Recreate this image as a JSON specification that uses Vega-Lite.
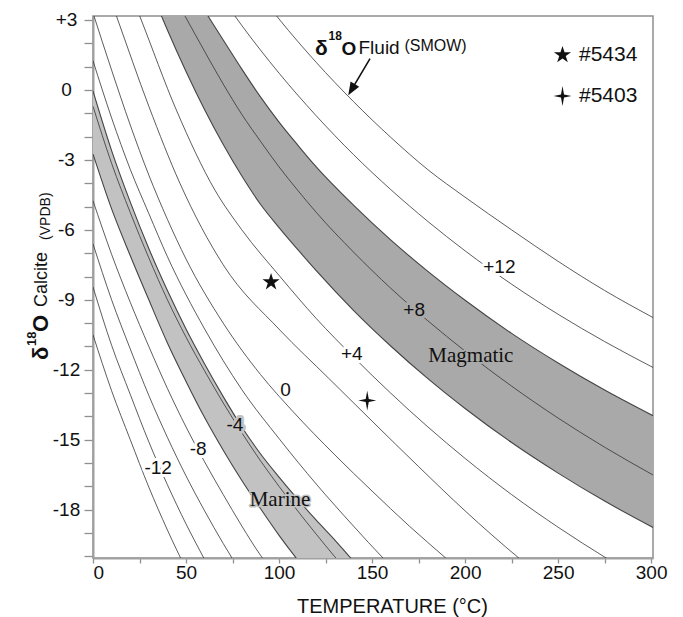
{
  "$schema": "https://vega.github.io/schema/vega-lite/v6.json",
  "width": 560,
  "height": 542,
  "autosize": {"type": "none"},
  "padding": {"left": 93, "top": 16, "right": 30, "bottom": 59},
  "background": "white",
  "config": {
    "view": {"stroke": "#8f8f8f", "strokeWidth": 1.5},
    "axis": {"grid": false, "domainColor": "#a0a0a0", "domainWidth": 2, "tickColor": "#909090", "tickWidth": 1.3, "labelFont": "Liberation Sans", "labelFontSize": 19, "labelColor": "#111111", "titleFont": "Liberation Sans", "titleFontSize": 20, "titleFontWeight": "normal", "titleColor": "#111111"}
  },
  "datasets": {
    "iso": [
      {"w":"-14","T":0,"d":-10.5},{"w":"-14","T":10,"d":-12.9},{"w":"-14","T":20,"d":-14.99},{"w":"-14","T":30,"d":-17.03},{"w":"-14","T":40,"d":-18.87},{"w":"-14","T":50,"d":-20.55},
      {"w":"-12","T":0,"d":-8.45},{"w":"-12","T":10,"d":-10.95},{"w":"-12","T":20,"d":-13.05},{"w":"-12","T":30,"d":-15.09},{"w":"-12","T":40,"d":-16.93},{"w":"-12","T":50,"d":-18.61},{"w":"-12","T":60,"d":-20.14},{"w":"-12","T":65,"d":-20.9},
      {"w":"-10","T":0,"d":-6.6},{"w":"-10","T":10,"d":-9.0},{"w":"-10","T":20,"d":-11.1},{"w":"-10","T":30,"d":-13.1},{"w":"-10","T":40,"d":-14.9},{"w":"-10","T":50,"d":-16.55},{"w":"-10","T":60,"d":-18.05},{"w":"-10","T":70,"d":-19.45},{"w":"-10","T":80,"d":-20.75},
      {"w":"-8","T":0,"d":-4.75},{"w":"-8","T":10,"d":-7.05},{"w":"-8","T":20,"d":-9.1},{"w":"-8","T":30,"d":-11.0},{"w":"-8","T":40,"d":-12.8},{"w":"-8","T":50,"d":-14.45},{"w":"-8","T":60,"d":-15.95},{"w":"-8","T":70,"d":-17.35},{"w":"-8","T":80,"d":-18.7},{"w":"-8","T":90,"d":-19.95},{"w":"-8","T":95,"d":-20.5},
      {"w":"-4","T":0,"d":-0.7},{"w":"-4","T":10,"d":-3.15},{"w":"-4","T":20,"d":-5.25},{"w":"-4","T":30,"d":-7.2},{"w":"-4","T":40,"d":-9.0},{"w":"-4","T":50,"d":-10.6},{"w":"-4","T":60,"d":-12.05},{"w":"-4","T":70,"d":-13.42},{"w":"-4","T":80,"d":-14.7},{"w":"-4","T":90,"d":-15.9},{"w":"-4","T":100,"d":-17.0},{"w":"-4","T":110,"d":-18.05},{"w":"-4","T":120,"d":-19.05},{"w":"-4","T":130,"d":-20.02},{"w":"-4","T":140,"d":-20.95},
      {"w":"-2","T":0,"d":1.25},{"w":"-2","T":10,"d":-1.2},{"w":"-2","T":20,"d":-3.4},{"w":"-2","T":30,"d":-5.3},{"w":"-2","T":40,"d":-7.15},{"w":"-2","T":60,"d":-10.25},{"w":"-2","T":80,"d":-12.85},{"w":"-2","T":100.5,"d":-15.0},{"w":"-2","T":120,"d":-16.9},{"w":"-2","T":140,"d":-18.7},{"w":"-2","T":156,"d":-20.08},{"w":"-2","T":165,"d":-20.8},
      {"w":"0","T":0,"d":3.3},{"w":"0","T":10,"d":0.85},{"w":"0","T":20,"d":-1.5},{"w":"0","T":30,"d":-3.65},{"w":"0","T":40,"d":-5.55},{"w":"0","T":50,"d":-7.25},{"w":"0","T":70,"d":-10.0},{"w":"0","T":90,"d":-12.2},{"w":"0","T":107.6,"d":-13.8},{"w":"0","T":130,"d":-15.65},{"w":"0","T":150,"d":-17.2},{"w":"0","T":170,"d":-18.7},{"w":"0","T":189.7,"d":-20.08},{"w":"0","T":200,"d":-20.8},
      {"w":"+2","T":0,"d":6.0},{"w":"+2","T":12.6,"d":3.17},{"w":"+2","T":30,"d":-0.7},{"w":"+2","T":46.7,"d":-4.0},{"w":"+2","T":70,"d":-7.5},{"w":"+2","T":100.5,"d":-10.3},{"w":"+2","T":126.5,"d":-12.35},{"w":"+2","T":150,"d":-14.2},{"w":"+2","T":175,"d":-16.15},{"w":"+2","T":200,"d":-18.05},{"w":"+2","T":229,"d":-20.08},{"w":"+2","T":240,"d":-20.8},
      {"w":"+4","T":10,"d":6.2},{"w":"+4","T":25.1,"d":3.17},{"w":"+4","T":45,"d":-0.9},{"w":"+4","T":65.5,"d":-4.29},{"w":"+4","T":80,"d":-6.0},{"w":"+4","T":100.5,"d":-8.0},{"w":"+4","T":120,"d":-9.8},{"w":"+4","T":140,"d":-11.45},{"w":"+4","T":160,"d":-13.0},{"w":"+4","T":180,"d":-14.45},{"w":"+4","T":200,"d":-15.8},{"w":"+4","T":225,"d":-17.35},{"w":"+4","T":250,"d":-18.75},{"w":"+4","T":276,"d":-20.08},{"w":"+4","T":290,"d":-20.75},
      {"w":"+8","T":30,"d":6.04},{"w":"+8","T":40,"d":4.52},{"w":"+8","T":50,"d":3.09},{"w":"+8","T":60,"d":1.65},{"w":"+8","T":70,"d":0.25},{"w":"+8","T":80,"d":-1.05},{"w":"+8","T":90,"d":-2.2},{"w":"+8","T":100,"d":-3.3},{"w":"+8","T":110,"d":-4.3},{"w":"+8","T":120,"d":-5.25},{"w":"+8","T":140,"d":-6.95},{"w":"+8","T":160,"d":-8.5},{"w":"+8","T":180,"d":-9.9},{"w":"+8","T":200,"d":-11.2},{"w":"+8","T":225,"d":-12.7},{"w":"+8","T":250,"d":-14.07},{"w":"+8","T":275,"d":-15.32},{"w":"+8","T":301,"d":-16.51},
      {"w":"+12","T":60,"d":5.05},{"w":"+12","T":80,"d":2.76},{"w":"+12","T":100,"d":0.72},{"w":"+12","T":120,"d":-1.11},{"w":"+12","T":140,"d":-2.77},{"w":"+12","T":160,"d":-4.27},{"w":"+12","T":180,"d":-5.64},{"w":"+12","T":200,"d":-6.9},{"w":"+12","T":225,"d":-8.33},{"w":"+12","T":250,"d":-9.62},{"w":"+12","T":275,"d":-10.79},{"w":"+12","T":301,"d":-11.9},
      {"w":"+14","T":80,"d":5.11},{"w":"+14","T":100,"d":3.04},{"w":"+14","T":120,"d":1.18},{"w":"+14","T":140,"d":-0.5},{"w":"+14","T":160,"d":-2.03},{"w":"+14","T":180,"d":-3.42},{"w":"+14","T":200,"d":-4.6},{"w":"+14","T":225,"d":-6.0},{"w":"+14","T":250,"d":-7.35},{"w":"+14","T":275,"d":-8.6},{"w":"+14","T":301,"d":-9.76}
    ],
    "bands": [
      {"band":"Marine","T":0,"d":-2.75,"d2":-0.05},{"band":"Marine","T":10,"d":-5.1,"d2":-2.6},{"band":"Marine","T":20,"d":-7.1,"d2":-4.8},{"band":"Marine","T":30,"d":-9.0,"d2":-6.8},{"band":"Marine","T":40,"d":-10.85,"d2":-8.6},{"band":"Marine","T":50,"d":-12.5,"d2":-10.25},{"band":"Marine","T":60,"d":-14.05,"d2":-11.75},{"band":"Marine","T":70,"d":-15.45,"d2":-13.15},{"band":"Marine","T":80,"d":-16.75,"d2":-14.45},{"band":"Marine","T":90,"d":-17.95,"d2":-15.6},{"band":"Marine","T":100,"d":-19.1,"d2":-16.6},{"band":"Marine","T":110,"d":-20.15,"d2":-17.55},{"band":"Marine","T":120,"d":-21.1,"d2":-18.45},{"band":"Marine","T":130,"d":-21.95,"d2":-19.3},{"band":"Marine","T":140,"d":-22.8,"d2":-20.2},{"band":"Marine","T":150,"d":-23.5,"d2":-21.0},
      {"band":"Magmatic","T":20,"d":6.56,"d2":8.7},{"band":"Magmatic","T":30,"d":4.49,"d2":7.3},{"band":"Magmatic","T":40,"d":2.57,"d2":5.85},{"band":"Magmatic","T":50,"d":0.79,"d2":4.65},{"band":"Magmatic","T":60,"d":-0.85,"d2":3.4},{"band":"Magmatic","T":70,"d":-2.34,"d2":2.14},{"band":"Magmatic","T":80,"d":-3.69,"d2":0.89},{"band":"Magmatic","T":90,"d":-4.9,"d2":-0.3},{"band":"Magmatic","T":100,"d":-5.9,"d2":-1.38},{"band":"Magmatic","T":110,"d":-6.84,"d2":-2.36},{"band":"Magmatic","T":120,"d":-7.75,"d2":-3.3},{"band":"Magmatic","T":140,"d":-9.45,"d2":-4.94},{"band":"Magmatic","T":160,"d":-10.98,"d2":-6.43},{"band":"Magmatic","T":180,"d":-12.38,"d2":-7.78},{"band":"Magmatic","T":200,"d":-13.66,"d2":-9.02},{"band":"Magmatic","T":225,"d":-15.12,"d2":-10.44},{"band":"Magmatic","T":250,"d":-16.43,"d2":-11.71},{"band":"Magmatic","T":275,"d":-17.63,"d2":-12.87},{"band":"Magmatic","T":301,"d":-18.76,"d2":-13.97}
    ],
    "labels": [
      {"label":"-12","T":35.0,"d":-16.47},{"label":"-8","T":56.5,"d":-15.64},{"label":"-4","T":76.3,"d":-14.64},{"label":"0","T":103.5,"d":-13.14},{"label":"+4","T":139.1,"d":-11.57},{"label":"+8","T":172.6,"d":-9.71},{"label":"+12","T":218.4,"d":-7.83}
    ],
    "names": [
      {"name":"Marine","T":100.5,"d":-17.83},{"name":"Magmatic","T":203.1,"d":-11.65}
    ],
    "notes": [
      {"note":"δ","T":119.3,"d":1.485},{"note":"18","T":126.6,"d":2.13},{"note":"O","T":133.6,"d":1.485},{"note":"Fluid","T":142.7,"d":1.554},{"note":"(SMOW)","T":167.4,"d":1.67}
    ],
    "ytitle": [
      {"piece":"δ","T":-24.2,"d":-11.58},{"piece":"18","T":-30.6,"d":-10.98},{"piece":"O","T":-24.2,"d":-10.38},{"piece":"Calcite","T":-24.7,"d":-9.31},{"piece":"(VPDB)","T":-23.1,"d":-6.43}
    ],
    "arrow": [
      {"T":148.9,"d":1.339,"T2":139.4,"d2":0.066,"Tt":137.2,"dt":-0.23}
    ],
    "samples": [
      {"sample":"#5434","T":95.7,"d":-8.24},{"sample":"#5403","T":147.4,"d":-13.32}
    ]
  },
  "encoding": {
    "x": {"field": "T", "type": "quantitative", "scale": {"domain": [0, 301], "nice": false, "zero": false},
      "axis": {"title": "TEMPERATURE (°C)", "values": [0,25,50,75,100,125,150,175,200,225,250,275,300], "labelExpr": "datum.value % 50 === 0 ? datum.label : ''", "tickSize": 5, "labelBaseline": "alphabetic", "labelPadding": 15, "titleX": 299, "titleY": 54, "titleBaseline": "alphabetic", "titleAlign": "center"}},
    "y": {"field": "d", "type": "quantitative", "scale": {"domain": [-20.07, 3.17], "nice": false, "zero": false},
      "axis": {"title": null, "values": [-20,-19,-18,-17,-16,-15,-14,-13,-12,-11,-10,-9,-8,-7,-6,-5,-4,-3,-2,-1,0,1,2,3], "labelExpr": "datum.value % 3 === 0 ? (datum.value > 0 ? '+' + datum.value : '' + datum.value) : ''", "tickSize": 9, "labelAlign": "center", "labelBaseline": "middle", "labelPadding": 18}}
  },
  "layer": [
    {"data": {"name": "bands"}, "transform": [{"filter": "datum.band === 'Marine'"}], "mark": {"type": "area", "interpolate": "monotone", "clip": true, "color": "#c2c2c2", "opacity": 1}, "encoding": {"y2": {"field": "d2"}}},
    {"data": {"name": "bands"}, "transform": [{"filter": "datum.band === 'Magmatic'"}], "mark": {"type": "area", "interpolate": "monotone", "clip": true, "color": "#a9a9a9", "opacity": 1}, "encoding": {"y2": {"field": "d2"}}},
    {"data": {"name": "iso"}, "mark": {"type": "line", "interpolate": "monotone", "clip": true, "color": "#333333", "strokeWidth": 0.8}, "encoding": {"detail": {"field": "w"}}},
    {"data": {"name": "bands"}, "transform": [{"fold": ["d", "d2"], "as": ["edge", "dv"]}], "mark": {"type": "line", "interpolate": "monotone", "clip": true, "color": "#444444", "strokeWidth": 1.1}, "encoding": {"y": {"field": "dv", "type": "quantitative"}, "detail": [{"field": "band"}, {"field": "edge"}]}},
    {"data": {"name": "labels"}, "transform": [{"filter": "datum.label !== '-4' && datum.label !== '+8'"}], "mark": {"type": "text", "font": "Liberation Sans", "fontSize": 19, "align": "center", "baseline": "alphabetic", "fill": "white", "stroke": "white", "strokeWidth": 6, "strokeJoin": "round"}, "encoding": {"text": {"field": "label"}}},
    {"data": {"name": "labels"}, "transform": [{"filter": "datum.label === '-4'"}], "mark": {"type": "text", "font": "Liberation Sans", "fontSize": 19, "align": "center", "baseline": "alphabetic", "fill": "#c2c2c2", "stroke": "#c2c2c2", "strokeWidth": 6, "strokeJoin": "round"}, "encoding": {"text": {"field": "label"}}},
    {"data": {"name": "labels"}, "transform": [{"filter": "datum.label === '+8'"}], "mark": {"type": "text", "font": "Liberation Sans", "fontSize": 19, "align": "center", "baseline": "alphabetic", "fill": "#a9a9a9", "stroke": "#a9a9a9", "strokeWidth": 6, "strokeJoin": "round"}, "encoding": {"text": {"field": "label"}}},
    {"data": {"name": "labels"}, "mark": {"type": "text", "font": "Liberation Sans", "fontSize": 19, "align": "center", "baseline": "alphabetic", "color": "#111111"}, "encoding": {"text": {"field": "label"}}},
    {"data": {"name": "names"}, "transform": [{"filter": "datum.name === 'Marine'"}], "mark": {"type": "text", "font": "Liberation Serif", "fontSize": 21, "align": "center", "baseline": "alphabetic", "fill": "#c2c2c2", "stroke": "#c2c2c2", "strokeWidth": 3, "strokeJoin": "round"}, "encoding": {"text": {"field": "name"}}},
    {"data": {"name": "names"}, "transform": [{"filter": "datum.name === 'Magmatic'"}], "mark": {"type": "text", "font": "Liberation Serif", "fontSize": 21, "align": "center", "baseline": "alphabetic", "fill": "#a9a9a9", "stroke": "#a9a9a9", "strokeWidth": 4, "strokeJoin": "round"}, "encoding": {"text": {"field": "name"}}},
    {"data": {"name": "names"}, "mark": {"type": "text", "font": "Liberation Serif", "fontSize": 21, "align": "center", "baseline": "alphabetic", "color": "#111111"}, "encoding": {"text": {"field": "name"}}},
    {"data": {"name": "notes"}, "transform": [{"filter": "datum.note === 'δ'"}], "mark": {"type": "text", "font": "Liberation Sans", "fontSize": 21, "fontWeight": "bold", "align": "left", "baseline": "alphabetic", "color": "#111111"}, "encoding": {"text": {"field": "note"}}},
    {"data": {"name": "notes"}, "transform": [{"filter": "datum.note === '18'"}], "mark": {"type": "text", "font": "Liberation Sans", "fontSize": 12, "fontWeight": "bold", "align": "left", "baseline": "alphabetic", "color": "#111111"}, "encoding": {"text": {"field": "note"}}},
    {"data": {"name": "notes"}, "transform": [{"filter": "datum.note === 'O'"}], "mark": {"type": "text", "font": "Liberation Sans", "fontSize": 19, "fontWeight": "bold", "align": "left", "baseline": "alphabetic", "color": "#111111"}, "encoding": {"text": {"field": "note"}}},
    {"data": {"name": "notes"}, "transform": [{"filter": "datum.note === 'Fluid'"}], "mark": {"type": "text", "font": "Liberation Sans", "fontSize": 19, "align": "left", "baseline": "alphabetic", "color": "#111111"}, "encoding": {"text": {"field": "note"}}},
    {"data": {"name": "notes"}, "transform": [{"filter": "datum.note === '(SMOW)'"}], "mark": {"type": "text", "font": "Liberation Sans", "fontSize": 16, "align": "left", "baseline": "alphabetic", "color": "#111111"}, "encoding": {"text": {"field": "note"}}},
    {"data": {"name": "ytitle"}, "transform": [{"filter": "datum.piece === 'δ' || datum.piece === 'O'"}], "mark": {"type": "text", "font": "Liberation Sans", "fontSize": 22, "fontWeight": "bold", "angle": -90, "align": "left", "baseline": "alphabetic", "color": "#111111"}, "encoding": {"text": {"field": "piece"}}},
    {"data": {"name": "ytitle"}, "transform": [{"filter": "datum.piece === '18'"}], "mark": {"type": "text", "font": "Liberation Sans", "fontSize": 13, "fontWeight": "bold", "angle": -90, "align": "left", "baseline": "alphabetic", "color": "#111111"}, "encoding": {"text": {"field": "piece"}}},
    {"data": {"name": "ytitle"}, "transform": [{"filter": "datum.piece === 'Calcite'"}], "mark": {"type": "text", "font": "Liberation Sans", "fontSize": 18, "angle": -90, "align": "left", "baseline": "alphabetic", "color": "#111111"}, "encoding": {"text": {"field": "piece"}}},
    {"data": {"name": "ytitle"}, "transform": [{"filter": "datum.piece === '(VPDB)'"}], "mark": {"type": "text", "font": "Liberation Sans", "fontSize": 14, "angle": -90, "align": "left", "baseline": "alphabetic", "color": "#111111"}, "encoding": {"text": {"field": "piece"}}},
    {"data": {"name": "arrow"}, "mark": {"type": "rule", "color": "#111111", "strokeWidth": 1.6}, "encoding": {"x2": {"field": "T2"}, "y2": {"field": "d2"}}},
    {"data": {"name": "arrow"}, "mark": {"type": "point", "shape": "M0,0L-0.77,-2L0.77,-2Z", "size": 169, "angle": 30.7, "filled": true, "opacity": 1, "color": "#111111", "strokeWidth": 0}, "encoding": {"x": {"field": "Tt", "type": "quantitative"}, "y": {"field": "dt", "type": "quantitative"}}},
    {"data": {"name": "samples"}, "mark": {"type": "point", "filled": true, "opacity": 1, "size": 324, "color": "#111111", "strokeWidth": 0},
      "encoding": {"shape": {"field": "sample", "type": "nominal",
        "scale": {"domain": ["#5434", "#5403"], "range": ["M0,-1L0.2245,-0.309L0.951,-0.309L0.363,0.118L0.588,0.809L0,0.382L-0.588,0.809L-0.363,0.118L-0.951,-0.309L-0.2245,-0.309Z", "M0,-1.1L0.17,-0.17L1,0L0.17,0.17L0,1.1L-0.17,0.17L-1,0L-0.17,-0.17Z"]},
        "legend": {"title": null, "orient": "none", "legendX": 459, "legendY": 28.5, "symbolSize": 324, "symbolFillColor": "#111111", "symbolStrokeColor": "#111111", "symbolStrokeWidth": 0, "symbolOpacity": 1, "labelFont": "Liberation Sans", "labelFontSize": 21, "labelColor": "#111111", "labelOffset": 6, "rowPadding": 19, "padding": 0}}}}
  ]
}
